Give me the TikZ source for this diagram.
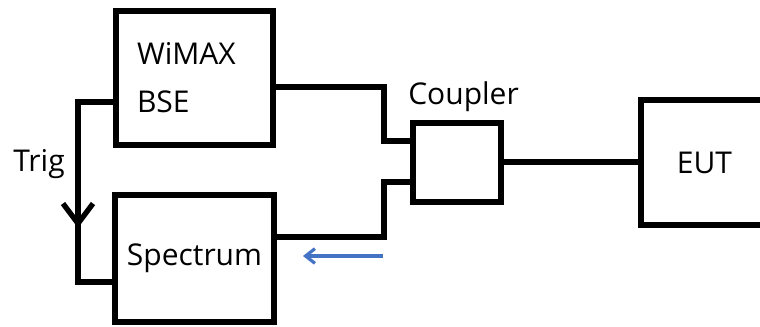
\documentclass[tikz,border=0pt]{standalone}
\usepackage{fontspec}
\setmainfont{Open Sans}
\usepackage{tikz}
\usetikzlibrary{arrows.meta, positioning}
\usepackage{xcolor}
\definecolor{arrowblue}{RGB}{68, 114, 196}

\begin{document}
\begin{tikzpicture}[x=0.75pt, y=-0.75pt,
    box/.style={draw, rectangle, line width=4.5pt, outer sep=0pt, align=left, font=\fontsize{22.5}{36}\selectfont},
    lbl/.style={inner sep=0pt, font=\fontsize{22.5}{36}\selectfont},
    wire/.style={line width=4.5pt},
    trigtip/.style={-{Straight Barb[length=15pt, width=22.5pt, line width=4pt]}}]
    \useasboundingbox (0,0) rectangle (760,327);
    \clip (0,0) rectangle (760,327);
    \node[box, minimum width=117.75pt, minimum height=100.5pt, text width=86.25pt] (wimax) at (194.5,78) {WiMAX\\BSE};
    \node[box, minimum width=119.25pt, minimum height=95.25pt, below=37.5pt of wimax] (spectrum) {Spectrum};
    \node[box, minimum width=66pt, minimum height=59.25pt] (coupler) at (457,162.5) {};
    \node[box, minimum width=95.25pt, minimum height=93.75pt, right=105pt of coupler] (eut) {EUT};
    \node[lbl, above=8pt of coupler, xshift=4.9pt] (couplerlbl) {Coupler};
    \node[lbl] (trig) at (39,164) {Trig};

    % trigger line
    \coordinate (t1) at (78,102);
    \coordinate (t2) at (78,282);
    \coordinate (tmid) at (78,228);
    \draw[wire] (t1 -| wimax.west) -- (t1) -- (t2) -- (t2 -| spectrum.west);
    \draw[wire, trigtip] (t1) -- (tmid);

    % rf paths
    \coordinate (c1) at (384,87);
    \coordinate (c2) at (384,141);
    \coordinate (c3) at (384,237);
    \coordinate (c4) at (384,182);
    \draw[wire] (c1 -| wimax.east) -- (c1) -- (c2) -- (c2 -| coupler.west);
    \draw[wire] (c3 -| spectrum.east) -- (c3) -- (c4) -- (c4 -| coupler.west);
    \draw[wire] (coupler) -- (eut);

    \coordinate (b1) at (383,256);
    \coordinate (b2) at (303,256);
    \draw[arrowblue, line width=2.4pt, -{Straight Barb[length=7pt, width=11pt]}] (b1) -- (b2);
\end{tikzpicture}
\end{document}
